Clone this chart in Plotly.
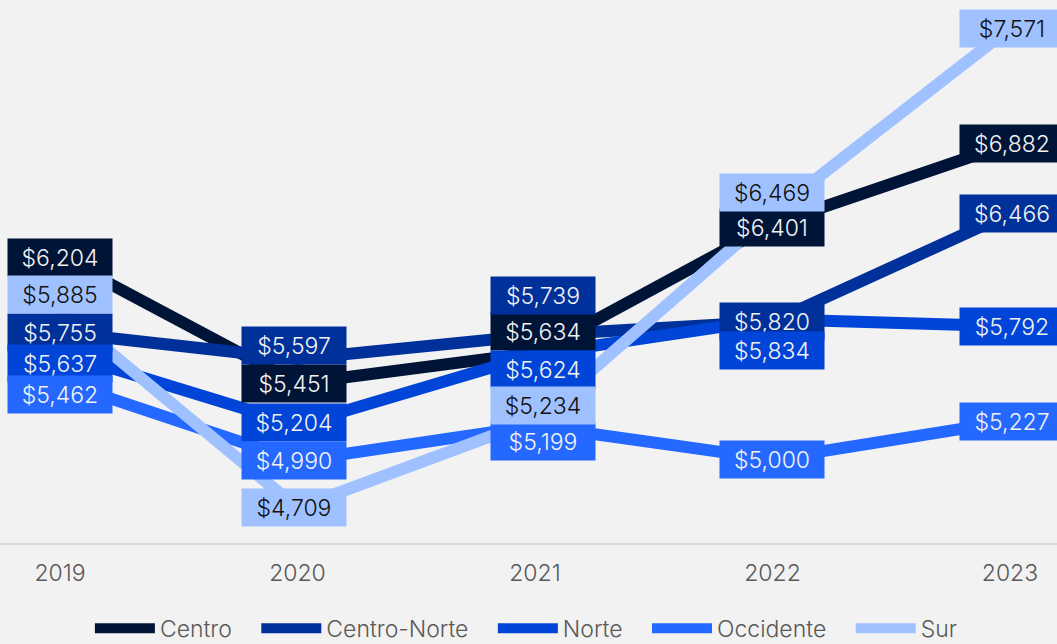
import plotly.graph_objects as go

YEARS = ["2019", "2020", "2021", "2022", "2023"]

SERIES = ["Centro", "Centro-Norte", "Norte", "Occidente", "Sur"]
CENTRO = [6204, 5451, 5634, 6401, 6882]
CENTRO_NORTE = [5755, 5597, 5739, 5820, 6466]
NORTE = [5637, 5204, 5624, 5834, 5792]
OCCIDENTE = [5462, 4990, 5199, 5000, 5227]
SUR = [5885, 4709, 5234, 6469, 7571]

VALUES = [CENTRO, CENTRO_NORTE, NORTE, OCCIDENTE, SUR]
COLORS = ["#001438", "#00319a", "#0044d8", "#2468ff", "#9fc1ff"]
TEXT_COLORS = ["#f2f2f2", "#f2f2f2", "#f2f2f2", "#f2f2f2", "#111111"]

# pixel nudges (positive = down) so overlapping labels stack like the original
LABEL_SHIFT = [
    [0, 0, -21, 3, 0],
    [0, -14, -40, 0, 0],
    [11, -2, 15, 31, 0],
    [13, 0, 16, 0, 0],
    [-16, 0, -14, -20, 0],
]
X_NUDGE = [0, -3, 8, 0, 2]

fig = go.Figure()
for name, vals, color in zip(SERIES, VALUES, COLORS):
    # trailing nbsp widens the gap between legend entries
    fig.add_trace(go.Scatter(x=YEARS, y=vals, name=name + "\u00a0\u00a0\u00a0", mode="lines",
                             line=dict(color=color, width=12), hoverinfo="skip"))

annotations = []
for vals, color, tcolor, shifts in zip(VALUES, COLORS, TEXT_COLORS, LABEL_SHIFT):
    for i, (yr, v) in enumerate(zip(YEARS, vals)):
        annotations.append(dict(
            x=i, y=v, xref="x", yref="y", text=f"${v:,}",
            showarrow=False, xshift=X_NUDGE[i], yshift=-shifts[i],
            font=dict(family="Inter", size=23, color=tcolor, weight=300),
            bgcolor=color, width=98, height=31, borderpad=3))

fig.update_layout(
    width=1057, height=644,
    paper_bgcolor="#f2f2f2", plot_bgcolor="#f2f2f2",
    margin=dict(l=0, r=0, t=0, b=101, autoexpand=False),
    font=dict(family="Inter", color="#595959", weight=300),
    showlegend=True,
    annotations=annotations,
    legend=dict(orientation="h", x=0.507, xanchor="center", y=-0.157, yanchor="middle",
                font=dict(size=23, color="#595959", weight=300), itemwidth=60,
                tracegroupgap=0),
)
fig.update_xaxes(type="category", range=[-0.2526, 4.198], showgrid=False, zeroline=False,
                 showline=True, linecolor="#d9d9d9", linewidth=2, ticks="",
                 tickfont=dict(size=23, color="#595959", weight=300), ticklabelstandoff=8)
fig.update_yaxes(range=[4500, 7738], showticklabels=False, showgrid=False,
                 zeroline=False, showline=False, ticks="")

fig.write_html("out.html", config={"displayModeBar": False},
               post_script="document.body.style.margin='0';")
